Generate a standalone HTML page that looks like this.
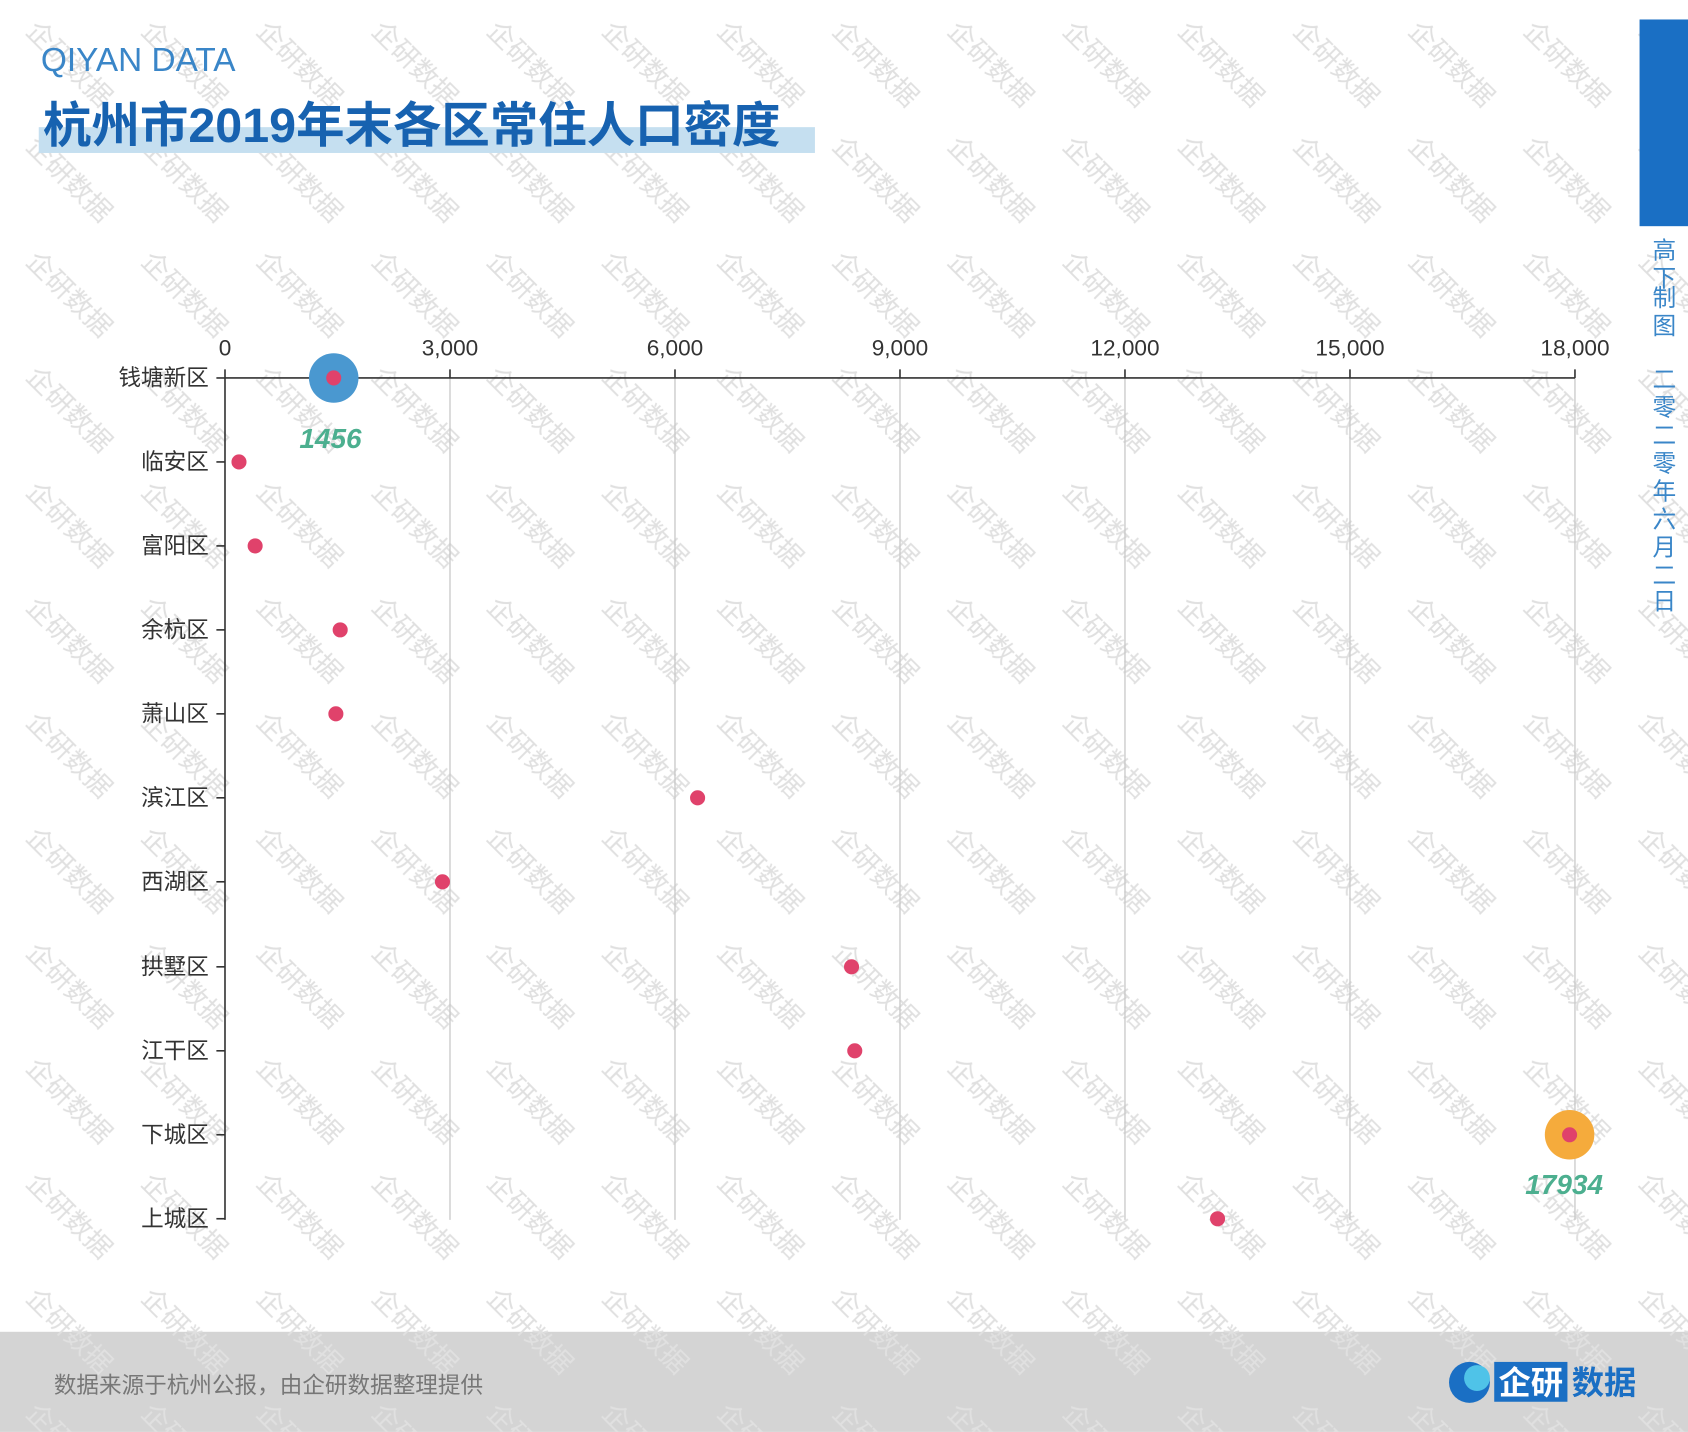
<!DOCTYPE html>
<html><head><meta charset="utf-8"><style>html,body{margin:0;padding:0;background:#fff;}svg{display:block}</style></head>
<body>
<svg width="1688" height="1432" viewBox="0 0 1568 1330" xmlns="http://www.w3.org/2000/svg" font-family="'Liberation Sans','Noto Sans CJK SC',sans-serif">
<defs>
<pattern id="wm" x="5" y="20" width="107" height="107" patternUnits="userSpaceOnUse">
<text x="0" y="0" transform="translate(18,10) rotate(45)" font-size="25" fill="#e0e0e0" font-family="'Noto Sans CJK SC',sans-serif">企研数据</text>
</pattern>
</defs>
<rect width="1568" height="1330" fill="#fff"/>
<rect x="0" y="1237" width="1568" height="93" fill="#d4d4d4"/>
<rect width="1568" height="1330" fill="url(#wm)"/>
<text x="38" y="66" font-size="31" fill="#3a86c8">QIYAN DATA</text>
<rect x="36" y="118" width="721" height="24" fill="#c5dff0"/>
<text x="40" y="132" font-size="45" font-weight="bold" fill="#1762b0">杭州市2019年末各区常住人口密度</text>
<rect x="1523" y="18" width="45" height="192" fill="#1a6fc4"/>
<g font-size="22" fill="#3a86c8" text-anchor="middle">
<text x="1546" y="240">高</text><text x="1546" y="266">下</text><text x="1546" y="284">制</text><text x="1546" y="310">图</text>
<text x="1546" y="360">二</text><text x="1546" y="386">零</text><text x="1546" y="412">二</text><text x="1546" y="438">零</text><text x="1546" y="464">年</text><text x="1546" y="490">六</text><text x="1546" y="516">月</text><text x="1546" y="542">二</text><text x="1546" y="566">日</text>
</g>
<g stroke="#c8c8c8" stroke-width="1.2">
<line x1="418" y1="351" x2="418" y2="1133"/><line x1="627" y1="351" x2="627" y2="1133"/><line x1="836" y1="351" x2="836" y2="1133"/><line x1="1045" y1="351" x2="1045" y2="1133"/><line x1="1254" y1="351" x2="1254" y2="1133"/><line x1="1463" y1="351" x2="1463" y2="1133"/>
</g>
<g stroke="#333" stroke-width="1.5">
<line x1="209" y1="351" x2="1463" y2="351"/><line x1="209" y1="351" x2="209" y2="1133"/>
<line x1="209" y1="351" x2="209" y2="343"/><line x1="418" y1="351" x2="418" y2="343"/><line x1="627" y1="351" x2="627" y2="343"/><line x1="836" y1="351" x2="836" y2="343"/><line x1="1045" y1="351" x2="1045" y2="343"/><line x1="1254" y1="351" x2="1254" y2="343"/><line x1="1463" y1="351" x2="1463" y2="343"/>
<line x1="201" y1="351" x2="209" y2="351"/><line x1="201" y1="429" x2="209" y2="429"/><line x1="201" y1="507" x2="209" y2="507"/><line x1="201" y1="585" x2="209" y2="585"/><line x1="201" y1="663" x2="209" y2="663"/><line x1="201" y1="741" x2="209" y2="741"/><line x1="201" y1="819" x2="209" y2="819"/><line x1="201" y1="898" x2="209" y2="898"/><line x1="201" y1="976" x2="209" y2="976"/><line x1="201" y1="1054" x2="209" y2="1054"/><line x1="201" y1="1132" x2="209" y2="1132"/>
</g>
<g font-size="21" fill="#333" text-anchor="middle">
<text x="209" y="330">0</text><text x="418" y="330">3,000</text><text x="627" y="330">6,000</text><text x="836" y="330">9,000</text><text x="1045" y="330">12,000</text><text x="1254" y="330">15,000</text><text x="1463" y="330">18,000</text>
</g>
<g font-size="21" fill="#333" text-anchor="end">
<text x="194" y="358">钱塘新区</text><text x="194" y="436">临安区</text><text x="194" y="514">富阳区</text><text x="194" y="592">余杭区</text><text x="194" y="670">萧山区</text><text x="194" y="748">滨江区</text><text x="194" y="826">西湖区</text><text x="194" y="905">拱墅区</text><text x="194" y="983">江干区</text><text x="194" y="1061">下城区</text><text x="194" y="1139">上城区</text>
</g>
<circle cx="310" cy="351" r="23" fill="#4a98d0"/>
<circle cx="1458" cy="1054" r="23" fill="#f5ab3c"/>
<g fill="#e0426b">
<circle cx="310" cy="351" r="7"/><circle cx="222" cy="429" r="7"/><circle cx="237" cy="507" r="7"/><circle cx="316" cy="585" r="7"/><circle cx="312" cy="663" r="7"/><circle cx="648" cy="741" r="7"/><circle cx="411" cy="819" r="7"/><circle cx="791" cy="898" r="7"/><circle cx="794" cy="976" r="7"/><circle cx="1458" cy="1054" r="7"/><circle cx="1131" cy="1132" r="7"/>
</g>
<g font-size="26" font-weight="bold" font-style="italic" fill="#4caf8f" text-anchor="middle">
<text x="307" y="416">1456</text><text x="1453" y="1109">17934</text>
</g>
<text x="50" y="1294" font-size="21" fill="#777">数据来源于杭州公报，由企研数据整理提供</text>
<circle cx="1365" cy="1284" r="19" fill="#1a6fc4"/>
<circle cx="1372" cy="1280" r="12" fill="#4fc3e8"/>
<rect x="1388" y="1265" width="68" height="37" fill="#1a6fc4"/>
<text x="1422" y="1295" font-size="30" font-weight="bold" fill="#fff" text-anchor="middle">企研</text>
<text x="1460" y="1295" font-size="30" font-weight="bold" fill="#1a6fc4">数据</text>
</svg>
</body></html>
